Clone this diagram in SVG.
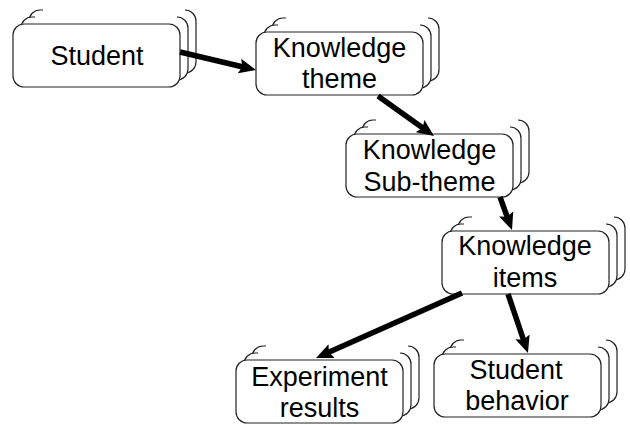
<svg xmlns="http://www.w3.org/2000/svg" xmlns:xlink="http://www.w3.org/1999/xlink" width="630" height="425" viewBox="0 0 630 425">
<style>
.edge{fill:none;stroke:#222;stroke-width:1.2}
.page{fill:#fff}
.front{fill:#fff;stroke:#222;stroke-width:1.2}
.lbl{font-family:"Liberation Sans",Arial,sans-serif;font-size:27px;fill:#000;text-anchor:middle}
.conn{stroke:#000;stroke-width:5.5;fill:none;marker-end:url(#ah)}
</style>
<defs>
<marker id="ah" markerUnits="userSpaceOnUse" viewBox="0 0 17 15" markerWidth="17" markerHeight="15" refX="5" refY="7.5" orient="auto">
<path d="M0,0 L17,7.5 L0,15 L3,7.5 z" fill="#000"/>
</marker>
<g id="stack">
<rect class="page" x="16" y="-14" width="167" height="63" rx="11"/>
<path class="edge" d="M16,-3 A11,11 0 0 1 27,-14 h3 M172,-14 A11,11 0 0 1 183,-3 V38 A11,11 0 0 1 172,49"/>
<rect class="page" x="8" y="-7" width="167" height="63" rx="11"/>
<path class="edge" d="M8,4 A11,11 0 0 1 19,-7 h3 M164,-7 A11,11 0 0 1 175,4 V45 A11,11 0 0 1 164,56"/>
<rect class="front" x="0" y="0" width="167" height="63" rx="11"/>
</g>
</defs>
<g id="n-student">
<use xlink:href="#stack" transform="translate(13,24)"/>
<text class="lbl" x="97" y="65">Student</text>
</g>
<g id="n-theme">
<use xlink:href="#stack" transform="translate(256,32)"/>
<text class="lbl" x="339.5" y="57">Knowledge</text>
<text class="lbl" x="339.5" y="88">theme</text>
</g>
<g id="n-subtheme">
<use xlink:href="#stack" transform="translate(346,134)"/>
<text class="lbl" x="429.5" y="159">Knowledge</text>
<text class="lbl" x="429.5" y="191">Sub-theme</text>
</g>
<g id="n-items">
<use xlink:href="#stack" transform="translate(442,231)"/>
<text class="lbl" x="525" y="255">Knowledge</text>
<text class="lbl" x="525" y="287">items</text>
</g>
<g id="n-experiment">
<use xlink:href="#stack" transform="translate(236,360)"/>
<text class="lbl" x="319.5" y="386">Experiment</text>
<text class="lbl" x="319.5" y="417">results</text>
</g>
<g id="n-behavior">
<use xlink:href="#stack" transform="translate(434,354)"/>
<text class="lbl" x="516" y="379">Student</text>
<text class="lbl" x="517" y="410">behavior</text>
</g>
<g id="connectors">
<line class="conn" x1="180" y1="52" x2="244.3" y2="67.2"/>
<line class="conn" x1="378" y1="96" x2="424.2" y2="129"/>
<line class="conn" x1="500" y1="197" x2="507.9" y2="218.7"/>
<line class="conn" x1="462" y1="293" x2="327" y2="353.1"/>
<line class="conn" x1="508" y1="294" x2="524.1" y2="341.6"/>
</g>
</svg>
